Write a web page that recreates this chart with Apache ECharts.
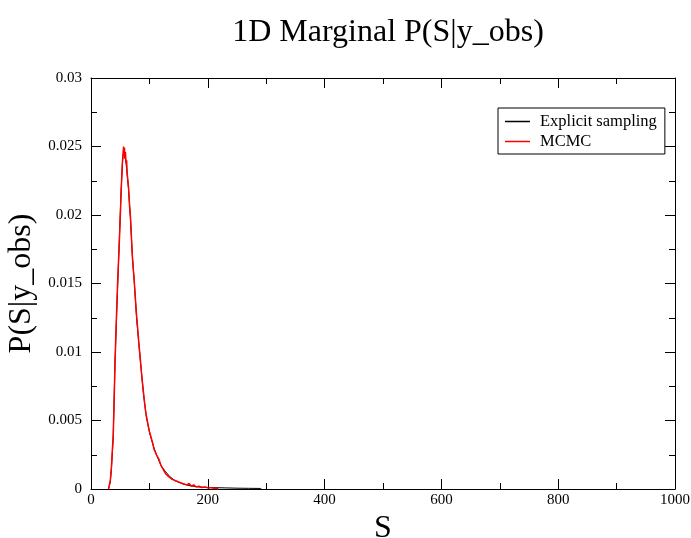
<!DOCTYPE html>
<html>
<head>
<meta charset="utf-8">
<script src="https://cdn.jsdelivr.net/npm/echarts@6/dist/echarts.min.js"></script>
<style>html,body{margin:0;padding:0;background:#fff}#c{width:691px;height:538px}</style>
</head>
<body>
<div id="c"></div>
<script>
var titleText = "1D Marginal P(S|y_obs)";
var xName = "S";
var yName = "P(S|y_obs)";
var seriesNames = ["Explicit sampling", "MCMC"];
var xTicks = [0, 200, 400, 600, 800, 1000];
var yTicks = [0, 0.005, 0.01, 0.015, 0.02, 0.025, 0.03];

var explicitS = [30, 33, 35, 38, 41, 44.5, 47, 49, 51.5, 54, 56, 58, 61, 64, 67.5, 71, 74, 78, 84, 90, 95, 101, 107, 113, 120, 127, 135, 144, 155, 165, 175, 185, 197, 210, 230, 250, 270, 290, 292];
var explicitP = [0, 0.0005, 0.0015, 0.0037, 0.0091, 0.0135, 0.0164, 0.0188, 0.0217, 0.0239, 0.0247, 0.0245, 0.0234, 0.0220, 0.0198, 0.0169, 0.0152, 0.0125, 0.0096, 0.0069, 0.0052, 0.0040, 0.0031, 0.0024, 0.0017, 0.0013, 0.0009, 0.0006, 0.0004, 0.00028, 0.0002, 0.00015, 0.00012, 0.0001, 0.00008, 0.00006, 0.00005, 0.00004, 0];

var mcmcS = [30, 32, 33, 35, 36.5, 38, 39.5, 41, 42.5, 44, 45.5, 47, 48.5, 50, 51.5, 53, 54, 55, 55.8, 56.5, 57.3, 58, 59, 60, 61, 62, 63, 64.5, 66, 67.5, 69, 70.5, 72, 74, 76, 78, 80, 82, 84, 86, 88, 90, 92, 94, 96, 98, 100, 102, 104, 106, 108, 110, 112, 114, 116, 118, 120, 122, 124, 126, 128, 130, 133, 136, 139, 142, 145, 148, 151, 154, 157, 160, 164, 168, 172, 176, 180, 185, 190, 195, 200, 205, 210, 215, 218];
var mcmcP = [0, 0, 0.0006, 0.0016, 0.0028, 0.0039, 0.0062, 0.0090, 0.0112, 0.0131, 0.0150, 0.0165, 0.0180, 0.0197, 0.0216, 0.0232, 0.0240, 0.0246, 0.0250, 0.0243, 0.0249, 0.0241, 0.0246, 0.0238, 0.0240, 0.0230, 0.0226, 0.0219, 0.0207, 0.0199, 0.0186, 0.0172, 0.0163, 0.0152, 0.0139, 0.0127, 0.0117, 0.0106, 0.0097, 0.0087, 0.0078, 0.0070, 0.0062, 0.0055, 0.0051, 0.0046, 0.0042, 0.0039, 0.0036, 0.0033, 0.0029, 0.0028, 0.0025, 0.0026, 0.0022, 0.0021, 0.0017, 0.0018, 0.0014, 0.0014, 0.0011, 0.0012, 0.0009, 0.0009, 0.0007, 0.0008, 0.0006, 0.0006, 0.0005, 0.0006, 0.0004, 0.0005, 0.0003, 0.0004, 0.0002, 0.0003, 0.00015, 0.0002, 0.0001, 0.00015, 0.00008, 0.0001, 0.00005, 0.00006, 0];

function zip(a, b) { return a.map(function (v, i) { return [v, b[i]]; }); }

var FONT = "'Liberation Serif', 'DejaVu Serif', serif";
var xMin = xTicks[0], xMax = xTicks[xTicks.length - 1], xInt = xTicks[1] - xTicks[0];
var yMin = yTicks[0], yMax = yTicks[yTicks.length - 1], yInt = yTicks[1] - yTicks[0];

function axisCommon(showLabel) {
  return {
    axisLine: { show: true, onZero: false, lineStyle: { color: '#000', width: 1 } },
    axisTick: { show: true, inside: true, length: 10, lineStyle: { color: '#000', width: 1 } },
    minorTick: { show: true, splitNumber: 2, length: 6, lineStyle: { color: '#000', width: 1 } },
    splitLine: { show: false },
    axisLabel: { show: showLabel, color: '#000', fontFamily: FONT, fontSize: 15 }
  };
}

var xBottom = Object.assign(axisCommon(true), {
  type: 'value', position: 'bottom', min: xMin, max: xMax, interval: xInt,
  name: xName, nameLocation: 'middle', nameGap: 22,
  nameTextStyle: { color: '#000', fontFamily: FONT, fontSize: 32 }
});
xBottom.axisLabel.margin = 4;
xBottom.axisLabel.formatter = function (v) { return String(v); };
var xTop = Object.assign(axisCommon(false), {
  type: 'value', position: 'top', min: xMin, max: xMax, interval: xInt
});
var yLeft = Object.assign(axisCommon(true), {
  type: 'value', position: 'left', min: yMin, max: yMax, interval: yInt,
  name: yName, nameLocation: 'middle', nameGap: 52,
  nameTextStyle: { color: '#000', fontFamily: FONT, fontSize: 32 }
});
yLeft.axisLabel.margin = 9;
yLeft.axisLabel.formatter = function (v) { return String(parseFloat(v.toFixed(4))); };
var yRight = Object.assign(axisCommon(false), {
  type: 'value', position: 'right', min: yMin, max: yMax, interval: yInt
});

var chart = echarts.init(document.getElementById('c'), null, { renderer: 'canvas' });
chart.setOption({
  animation: false,
  backgroundColor: '#fff',
  title: {
    text: titleText, left: 383, top: 12, textAlign: 'center',
    textStyle: { color: '#000', fontFamily: FONT, fontSize: 32, fontWeight: 'normal' }
  },
  grid: { left: 91, right: 16, top: 78, bottom: 49, containLabel: false, outerBoundsMode: 'none' },
  legend: {
    orient: 'vertical', left: 498, top: 108,
    borderColor: '#000', borderWidth: 1, borderRadius: 0,
    padding: [5, 8, 4, 7], itemGap: 3,
    itemWidth: 25, itemHeight: 1.5, icon: 'rect',
    textStyle: { color: '#000', fontFamily: FONT, fontSize: 16.5, padding: [0, 0, 0, 5] },
    data: seriesNames
  },
  xAxis: [xBottom, xTop],
  yAxis: [yLeft, yRight],
  series: [
    {
      name: seriesNames[0], type: 'line', xAxisIndex: 0, yAxisIndex: 0,
      data: zip(explicitS, explicitP), showSymbol: false, symbol: 'none',
      lineStyle: { color: '#000', width: 1 }, itemStyle: { color: '#000' }, z: 2
    },
    {
      name: seriesNames[1], type: 'line', xAxisIndex: 0, yAxisIndex: 0,
      data: zip(mcmcS, mcmcP), showSymbol: false, symbol: 'none',
      lineStyle: { color: '#ff0000', width: 1.5 }, itemStyle: { color: '#ff0000' }, z: 3
    }
  ]
});
</script>
</body>
</html>
